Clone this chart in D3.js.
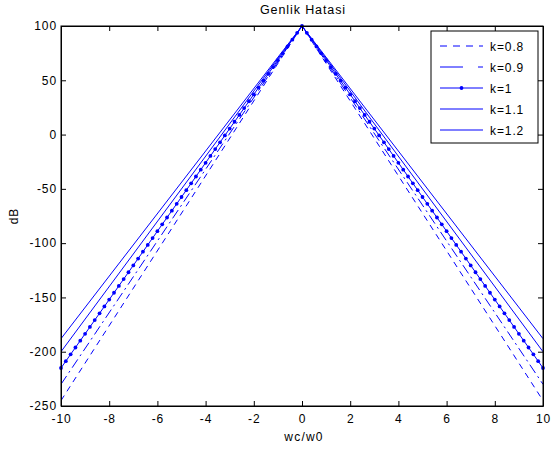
<!DOCTYPE html>
<html><head><meta charset="utf-8">
<script src="https://cdn.jsdelivr.net/npm/d3@7"></script>
<style>body{margin:0;background:#fff}svg{display:block}text{font-family:"Liberation Sans",Arial,sans-serif;}</style>
</head><body><svg id="c" width="551" height="450"></svg>
<script>
const title = "Genlik Hatasi";
const xLabel = "wc/w0";
const yLabel = "dB";
const xTicks = [-10,-8,-6,-4,-2,0,2,4,6,8,10];
const yTicks = [-250,-200,-150,-100,-50,0,50,100];
const seriesNames = ["k=0.8","k=0.9","k=1","k=1.1","k=1.2"];
// sparse series (straight lines): x positions and values
const xCoarse = [-10, 0, 10];
const k08 = [-245, 100, -245];
const k09 = [-230, 100, -230];
const k11 = [-200, 100, -200];
const k12 = [-188, 100, -188];
// k=1 series with markers every 0.2
const xDense = [-10,-9.8,-9.6,-9.4,-9.2,-9,-8.8,-8.6,-8.4,-8.2,-8,-7.8,-7.6,-7.4,-7.2,-7,-6.8,-6.6,-6.4,-6.2,-6,-5.8,-5.6,-5.4,-5.2,-5,-4.8,-4.6,-4.4,-4.2,-4,-3.8,-3.6,-3.4,-3.2,-3,-2.8,-2.6,-2.4,-2.2,-2,-1.8,-1.6,-1.4,-1.2,-1,-0.8,-0.6,-0.4,-0.2,0,0.2,0.4,0.6,0.8,1,1.2,1.4,1.6,1.8,2,2.2,2.4,2.6,2.8,3,3.2,3.4,3.6,3.8,4,4.2,4.4,4.6,4.8,5,5.2,5.4,5.6,5.8,6,6.2,6.4,6.6,6.8,7,7.2,7.4,7.6,7.8,8,8.2,8.4,8.6,8.8,9,9.2,9.4,9.6,9.8,10];
const k10 = [-215,-208.7,-202.4,-196.1,-189.8,-183.5,-177.2,-170.9,-164.6,-158.3,-152,-145.7,-139.4,-133.1,-126.8,-120.5,-114.2,-107.9,-101.6,-95.3,-89,-82.7,-76.4,-70.1,-63.8,-57.5,-51.2,-44.9,-38.6,-32.3,-26,-19.7,-13.4,-7.1,-0.8,5.5,11.8,18.1,24.4,30.7,37,43.3,49.6,55.9,62.2,68.5,74.8,81.1,87.4,93.7,100,93.7,87.4,81.1,74.8,68.5,62.2,55.9,49.6,43.3,37,30.7,24.4,18.1,11.8,5.5,-0.8,-7.1,-13.4,-19.7,-26,-32.3,-38.6,-44.9,-51.2,-57.5,-63.8,-70.1,-76.4,-82.7,-89,-95.3,-101.6,-107.9,-114.2,-120.5,-126.8,-133.1,-139.4,-145.7,-152,-158.3,-164.6,-170.9,-177.2,-183.5,-189.8,-196.1,-202.4,-208.7,-215];

const L=61, R=543, T=26, B=406;
const svg = d3.select("#c");
const x = d3.scaleLinear().domain([-10,10]).range([L,R]);
const y = d3.scaleLinear().domain([-250,100]).range([B,T]);
const blue = "#0000ff";
const fmt = d => String(d);
const FS = 12, LS = "0.9px";

const series = [
  {name:seriesNames[0], xs:xCoarse, ys:k08, dash:"6,5", ldash:"7,6", marker:false},
  {name:seriesNames[1], xs:xCoarse, ys:k09, dash:"10,4,2,4", ldash:"23,15,5,10", marker:false},
  {name:seriesNames[2], xs:xDense, ys:k10, dash:null, ldash:null, marker:true},
  {name:seriesNames[3], xs:xCoarse, ys:k11, dash:null, ldash:null, marker:false},
  {name:seriesNames[4], xs:xCoarse, ys:k12, dash:null, ldash:null, marker:false}
];

svg.append("defs").append("clipPath").attr("id","clip").append("rect")
  .attr("x",L).attr("y",T).attr("width",R-L).attr("height",B-T);

const line = d3.line().x(d=>x(d[0])).y(d=>y(d[1]));
const plot = svg.append("g").attr("clip-path","url(#clip)");
series.forEach(s=>{
  const pts = s.xs.map((v,i)=>[v,s.ys[i]]);
  plot.append("path").attr("d",line(pts)).attr("fill","none")
    .attr("stroke",blue).attr("stroke-width",1)
    .attr("stroke-dasharray",s.dash);
  if(s.marker){
    svg.append("g").selectAll("circle").data(pts).join("circle")
      .attr("cx",d=>x(d[0])).attr("cy",d=>y(d[1])).attr("r",1.9).attr("fill",blue);
  }
});

// axes (box with inward ticks)
const ax = svg.append("g");
ax.append("g").attr("transform",`translate(0,${B})`)
  .call(d3.axisBottom(x).tickValues(xTicks).tickSizeInner(-5).tickSizeOuter(0).tickPadding(8).tickFormat(fmt));
ax.append("g").attr("transform",`translate(0,${T})`)
  .call(d3.axisTop(x).tickValues(xTicks).tickSizeInner(-5).tickSizeOuter(0).tickFormat(""));
ax.append("g").attr("transform",`translate(${L},0)`)
  .call(d3.axisLeft(y).tickValues(yTicks).tickSizeInner(-5).tickSizeOuter(0).tickPadding(4).tickFormat(fmt));
ax.append("g").attr("transform",`translate(${R},0)`)
  .call(d3.axisRight(y).tickValues(yTicks).tickSizeInner(-5).tickSizeOuter(0).tickFormat(""));
ax.selectAll(".domain").attr("stroke","#000");
ax.selectAll(".tick line").attr("stroke","#000");
ax.selectAll("text").attr("font-size",FS).attr("fill","#000").attr("letter-spacing",LS)
  .style("font-family","Liberation Sans, Arial, sans-serif");
svg.append("rect").attr("x",L).attr("y",T).attr("width",R-L).attr("height",B-T)
  .attr("fill","none").attr("stroke","#000").attr("stroke-width",1);

svg.append("text").attr("x",(L+R)/2+1).attr("y",14).attr("text-anchor","middle").attr("font-size",12.5).attr("letter-spacing",LS).text(title);
svg.append("text").attr("x",(L+R)/2+2).attr("y",441).attr("text-anchor","middle").attr("font-size",FS).attr("letter-spacing","1.2px").text(xLabel);
svg.append("text").attr("transform",`translate(18,${(T+B)/2}) rotate(-90)`).attr("text-anchor","middle").attr("font-size",FS).attr("letter-spacing",LS).text(yLabel);

// legend
const lg = svg.append("g");
const lx=431, ly=31, lw=107, lh=112;
lg.append("rect").attr("x",lx).attr("y",ly).attr("width",lw).attr("height",lh).attr("fill","#fff").attr("stroke","#000");
series.forEach((s,i)=>{
  const yy = 46 + i*21;
  lg.append("line").attr("x1",440).attr("x2",483).attr("y1",yy).attr("y2",yy)
    .attr("stroke",blue).attr("stroke-width",1).attr("stroke-dasharray",s.ldash);
  if(s.marker) lg.append("circle").attr("cx",461.5).attr("cy",yy).attr("r",1.9).attr("fill",blue);
  lg.append("text").attr("x",490).attr("y",yy+4.5).attr("font-size",FS).attr("letter-spacing",LS).text(s.name);
});
</script></body></html>
